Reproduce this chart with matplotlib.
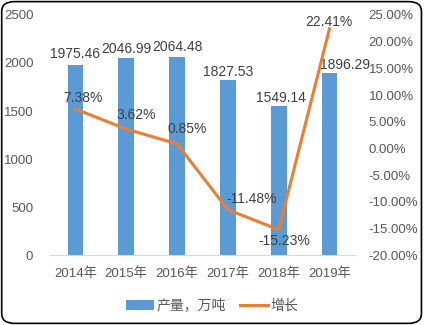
import matplotlib
matplotlib.use("Agg")
import matplotlib.pyplot as plt
from matplotlib.patches import FancyBboxPatch
import numpy as np

plt.rcParams['font.family'] = ['Liberation Sans', 'Noto Sans CJK SC', 'DejaVu Sans']

years = ["2014年", "2015年", "2016年", "2017年", "2018年", "2019年"]
output = [1975.46, 2046.99, 2064.48, 1827.53, 1549.14, 1896.29]
growth = [7.38, 3.62, 0.85, -11.48, -15.23, 22.41]
bar_label = "产量，万吨"
line_label = "增长"

bar_color = "#5B9BD5"
line_color = "#ED7D31"
txt = "#404040"
tick_c = "#595959"

fig = plt.figure(figsize=(4.24, 3.25), dpi=100)
ax = fig.add_axes([0.118, 0.215, 0.719, 0.739])
ax2 = ax.twinx()

x = np.arange(len(years))
bars = ax.bar(x, output, width=0.31, color=bar_color, label=bar_label, zorder=2)
ax.set_ylim(0, 2500)
ax.set_yticks(range(0, 2501, 500))
ax.set_xlim(-0.5, len(years) - 0.5)
ax.set_xticks(x)
ax.set_xticklabels(years)

line, = ax2.plot(x, growth, color=line_color, lw=2.2, label=line_label, zorder=3)
ax2.set_ylim(-20, 25)
ax2.set_yticks(range(-20, 26, 5))
ax2.set_yticklabels([f"{v:.2f}%" for v in range(-20, 26, 5)])

for a in (ax, ax2):
    for s in ("top", "left", "right", "bottom"):
        a.spines[s].set_visible(False)
    a.tick_params(length=0, colors=tick_c, labelsize=9.5)
ax.spines["bottom"].set_visible(True)
ax.spines["bottom"].set_color("#D9D9D9")
ax.tick_params(axis='x', pad=9)
ax.tick_params(axis='y', pad=12)
ax2.tick_params(axis='y', pad=10)

bar_offsets = [(0, 11), (0, 9), (0, 10), (0, 8), (2, 8), (16, 8)]
for xi, v, off in zip(x, output, bar_offsets):
    ax.annotate(f"{v:.2f}", (xi, v), xytext=off, textcoords="offset pixels",
                ha="center", va="center", fontsize=10, color=txt)

offsets = [(8, 11), (10, 14), (10, 15), (24, 11), (6, -11), (-1, 7)]
for xi, v, off in zip(x, growth, offsets):
    ax2.annotate(f"{v:.2f}%", (xi, v), xytext=off, textcoords="offset pixels",
                 ha="center", va="center", fontsize=10, color=txt, zorder=5)

ax2.set_zorder(ax.get_zorder() + 1)
ax.patch.set_visible(True)
ax2.patch.set_visible(False)

fig.legend([bars, line], [bar_label, line_label], loc="center",
           bbox_to_anchor=(0.5, 0.06), ncol=2, frameon=False, fontsize=10,
           labelcolor=tick_c, handlelength=2.0, handletextpad=0.2, columnspacing=1.0)

border = FancyBboxPatch((0.004, 0.005), 0.99, 0.99, boxstyle="round,pad=0,rounding_size=0.03",
                        transform=fig.transFigure, fill=False, edgecolor="black", lw=1.2)
fig.patches.append(border)

fig.savefig("out.png", dpi=100)
